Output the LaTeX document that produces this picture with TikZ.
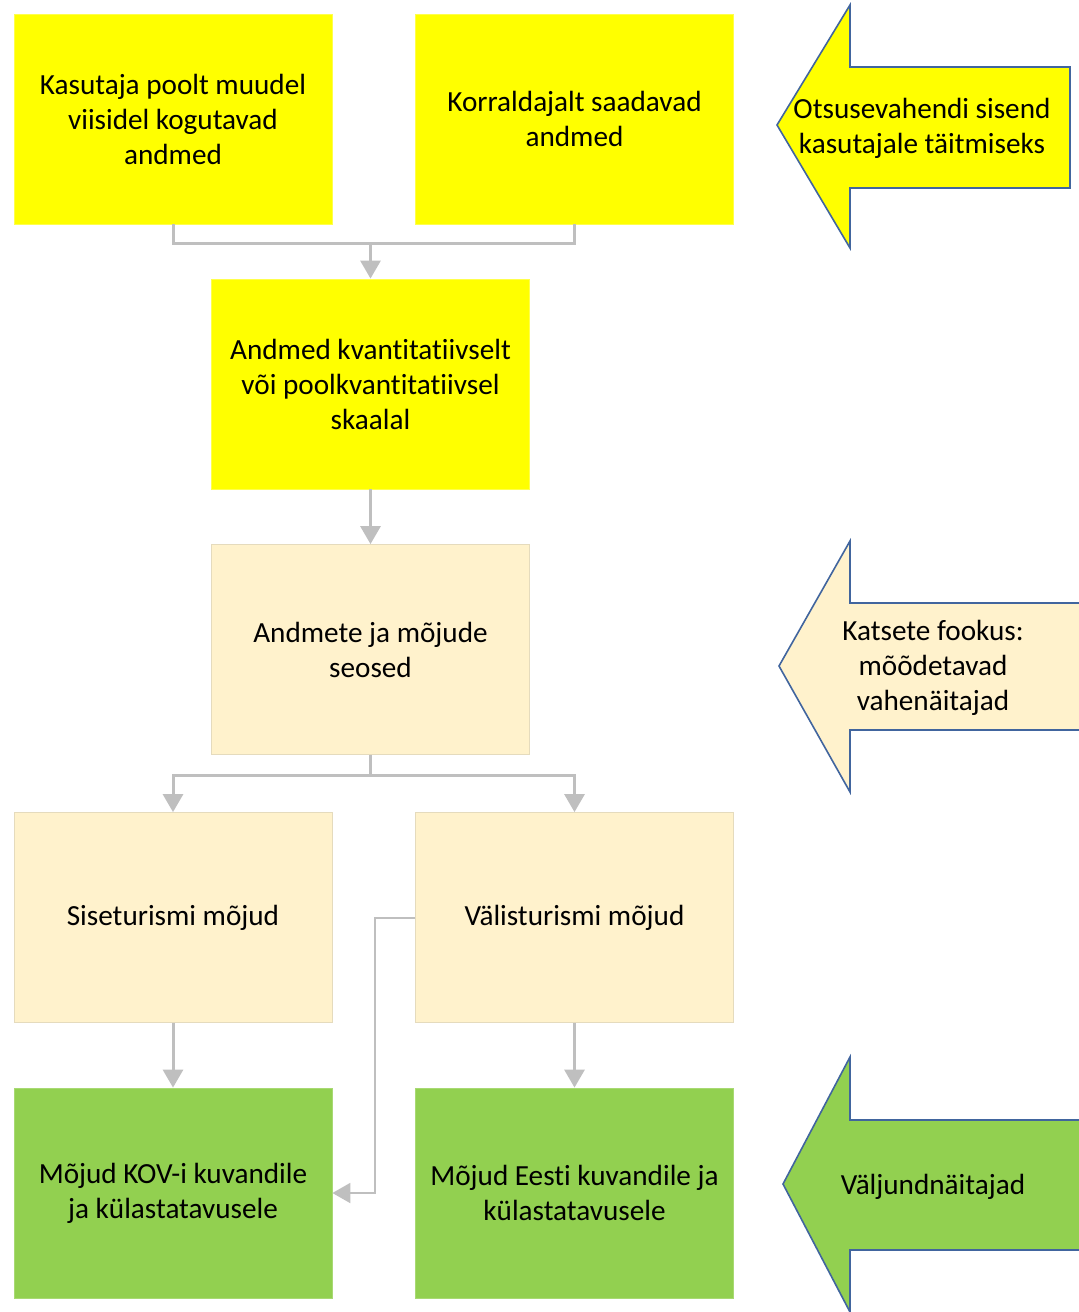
\documentclass[tikz,border=0pt]{standalone}
\usepackage{fontspec}
\setmainfont[Ligatures={NoCommon,NoRare}]{Carlito}
\usetikzlibrary{arrows.meta}
\definecolor{ylw}{HTML}{FFFF00}
\definecolor{crm}{HTML}{FFF2CC}
\definecolor{grn}{HTML}{92D050}
\definecolor{arrline}{HTML}{41659E}
\definecolor{conncol}{HTML}{BFBFBF}
\tikzset{
  box/.style={rectangle, minimum width=159pt, minimum height=105pt, align=center, inner sep=2pt,
    font=\fontsize{14.6}{17.5}\selectfont, text=black, draw=white!80!gray, line width=0.4pt},
  ybox/.style={box, fill=ylw, draw=ylw!70!white},
  cbox/.style={box, fill=crm, draw=crm!80!gray},
  gbox/.style={box, fill=grn, draw=grn!80!white},
  conn/.style={draw=conncol, line width=1.5pt},
  tip/.style={-{Triangle[width=10pt,length=9pt]}},
  bigarrow/.style={draw=arrline, line width=0.8pt, line join=miter},
  atext/.style={align=center, font=\fontsize{14.6}{17.5}\selectfont, text=black}
}
\begin{document}
\begin{tikzpicture}[x=0.5pt,y=-0.5pt]
\useasboundingbox (0,0) rectangle (1079,1312);
% boxes
\node[ybox] (A) at (173,119) {Kasutaja poolt muudel\\viisidel kogutavad\\andmed};
\node[ybox] (B) at (574.5,119) {Korraldajalt saadavad\\andmed};
\node[ybox] (C) at (370.5,384) {Andmed kvantitatiivselt\\või poolkvantitatiivsel\\skaalal};
\node[cbox] (D) at (370.5,649.5) {Andmete ja mõjude\\seosed};
\node[cbox] (E) at (173,917.5) {Siseturismi mõjud};
\node[cbox] (F) at (574.5,917.5) {Välisturismi mõjud};
\node[gbox] (G) at (173,1193) {Mõjud KOV-i kuvandile\\ja külastatavusele};
\node[gbox] (H) at (574.5,1193) {Mõjud Eesti kuvandile ja\\külastatavusele};
% connectors
\coordinate (j1) at (370.5,243);
\coordinate (j2) at (370.5,775);
\draw[conn] (A.south) |- (j1) -| (B.south);
\draw[conn,tip] (j1) -- (C.north);
\draw[conn,tip] (C.south) -- (D.north);
\draw[conn] (D.south) -- (j2);
\draw[conn,tip] (j2) -| (E.north);
\draw[conn,tip] (j2) -| (F.north);
\draw[conn,tip] (E.south) -- (G.north);
\draw[conn,tip] (F.south) -- (H.north);
\draw[conn,line width=1pt,tip] (F.west) -- ++(-40,0) |- (G.east);
% big arrows
\draw[bigarrow, fill=ylw] (777,125) -- (850,5) -- (850,67) -- (1070,67) -- (1070,188) -- (850,188) -- (850,248) -- cycle;
\node[atext] (t1) at (922,128) {Otsusevahendi sisend\\kasutajale täitmiseks};
\draw[bigarrow, fill=crm] (779,666) -- (850,541) -- (850,603) -- (1095,603) -- (1095,730) -- (850,730) -- (850,792) -- cycle;
\node[atext] (t2) at (933,668) {Katsete fookus:\\mõõdetavad\\vahenäitajad};
\draw[bigarrow, fill=grn] (783,1184) -- (850,1057) -- (850,1120) -- (1095,1120) -- (1095,1250) -- (850,1250) -- (850,1312) -- cycle;
\node[atext] (t3) at (933,1187) {Väljundnäitajad};
\end{tikzpicture}
\end{document}
